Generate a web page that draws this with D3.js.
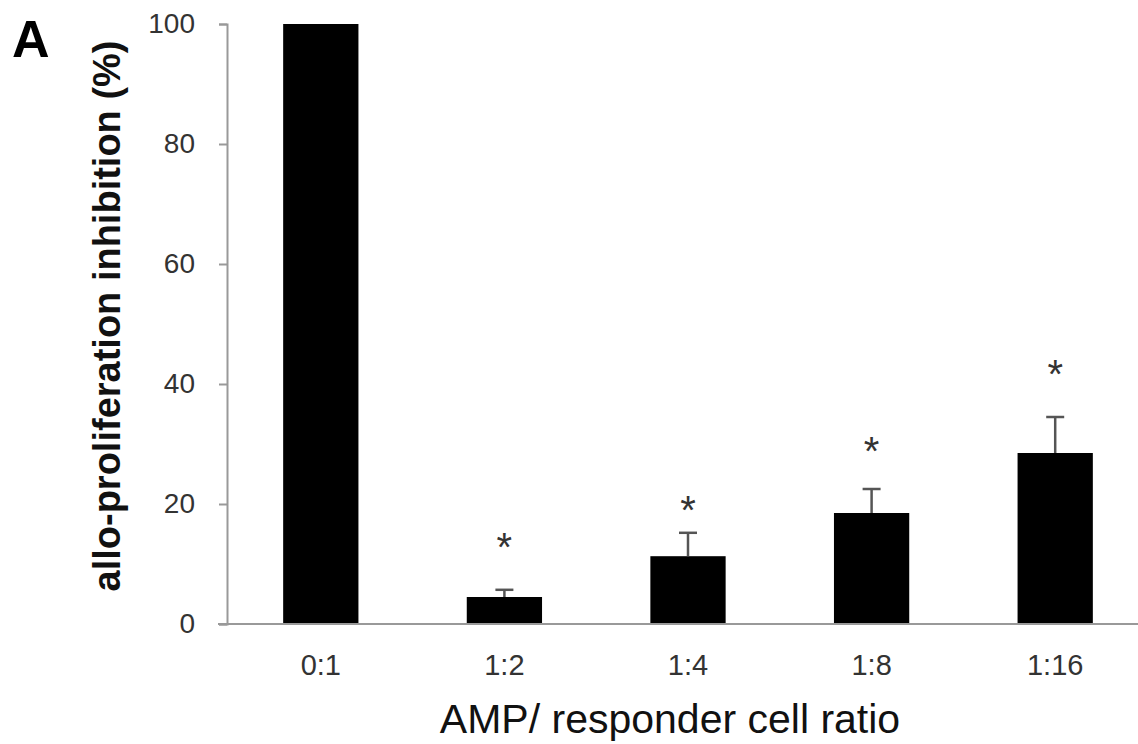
<!DOCTYPE html>
<html>
<head>
<meta charset="utf-8">
<script src="https://cdn.jsdelivr.net/npm/d3@7"></script>
<style>
  body{margin:0;background:#fff;}
  svg text{font-family:Arial,"Liberation Sans",Helvetica,sans-serif;}
</style>
</head>
<body>
<svg id="chart"></svg>
<script>
// values
var ratios=["0:1","1:2","1:4","1:8","1:16"]
var inhibition=[100,4.5,11.3,18.5,28.5]
var errUp=[0,1.2,3.9,4.0,6.0]
var starLevel=[null,14.3,20.5,30.3,43.2]
var yTicks=[0,20,40,60,80,100]

var screen={width:1138,height:744}
var svg=d3.select("#chart")
    .attr("width",screen.width)
    .attr("height",screen.height)

var xScale=d3.scaleBand()
    .domain(ratios)
    .range([229,1147])
    .paddingInner(0.59)
    .paddingOuter(0.295)
var yScale=d3.scaleLinear()
    .domain([0,100])
    .range([624,24])

var rows=ratios.map(function(r,i){
    return {ratio:r,value:inhibition[i],err:errUp[i],star:starLevel[i]}
})

//bars
svg.append("g")
    .selectAll("rect")
    .data(rows)
    .enter()
    .append("rect")
    .attr("x",function(d){return xScale(d.ratio)})
    .attr("width",xScale.bandwidth())
    .attr("y",function(d){return yScale(d.value)})
    .attr("height",function(d){return yScale(0)-yScale(d.value)})
    .attr("fill","#000")

//error bars (upper only)
var errs=svg.append("g")
    .selectAll("g")
    .data(rows.filter(function(d){return d.err>0}))
    .enter()
    .append("g")
    .attr("stroke","#555")
    .attr("stroke-width",2.5)
errs.append("line")
    .attr("x1",function(d){return xScale(d.ratio)+xScale.bandwidth()/2})
    .attr("x2",function(d){return xScale(d.ratio)+xScale.bandwidth()/2})
    .attr("y1",function(d){return yScale(d.value)})
    .attr("y2",function(d){return yScale(d.value+d.err)})
errs.append("line")
    .attr("x1",function(d){return xScale(d.ratio)+xScale.bandwidth()/2-9})
    .attr("x2",function(d){return xScale(d.ratio)+xScale.bandwidth()/2+9})
    .attr("y1",function(d){return yScale(d.value+d.err)})
    .attr("y2",function(d){return yScale(d.value+d.err)})

//significance stars
svg.append("g")
    .selectAll("text")
    .data(rows.filter(function(d){return d.star!=null}))
    .enter()
    .append("text")
    .attr("x",function(d){return xScale(d.ratio)+xScale.bandwidth()/2})
    .attr("y",function(d){return yScale(d.star)+23})
    .attr("text-anchor","middle")
    .attr("font-size",40)
    .attr("fill","#333")
    .text("*")

//y axis
var yAxis=svg.append("g")
    .attr("transform","translate(227,0)")
    .call(d3.axisLeft(yScale).tickValues(yTicks).tickSize(8).tickPadding(24))
yAxis.select(".domain").attr("stroke","#999").attr("stroke-width",2)
yAxis.selectAll(".tick line").attr("stroke","#999").attr("stroke-width",2)
yAxis.selectAll(".tick text")
    .attr("font-size",28)
    .attr("fill","#333")
    .style("font-family","Arial, 'Liberation Sans', sans-serif")

//x axis
var xAxis=svg.append("g")
    .attr("transform","translate(0,"+yScale(0)+")")
    .call(d3.axisBottom(xScale).tickSize(0))
xAxis.select(".domain").remove()
xAxis.append("line")
    .attr("x1",218).attr("x2",screen.width)
    .attr("stroke","#999").attr("stroke-width",2)
xAxis.selectAll(".tick text")
    .attr("y",51)
    .attr("dy",null)
    .attr("font-size",29)
    .attr("fill","#333")
    .style("font-family","Arial, 'Liberation Sans', sans-serif")

//titles
svg.append("text")
    .attr("transform","translate(120,316) rotate(-90)")
    .attr("text-anchor","middle")
    .attr("font-size",38)
    .attr("font-weight","bold")
    .attr("fill","#111")
    .text("allo-proliferation inhibition (%)")
svg.append("text")
    .attr("x",670)
    .attr("y",733)
    .attr("text-anchor","middle")
    .attr("font-size",41)
    .attr("fill","#111")
    .text("AMP/ responder cell ratio")
svg.append("text")
    .attr("x",12)
    .attr("y",57)
    .attr("font-size",52)
    .attr("font-weight","bold")
    .attr("fill","#000")
    .text("A")
</script>
</body>
</html>
